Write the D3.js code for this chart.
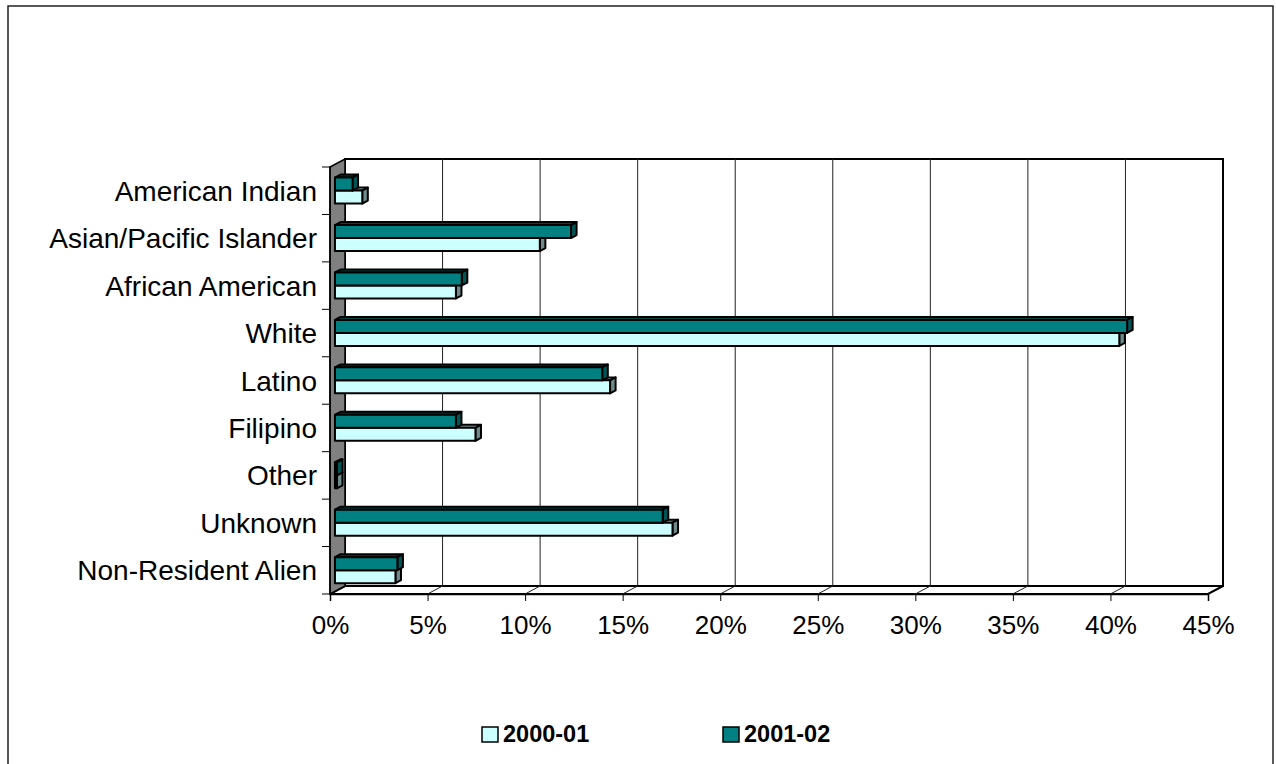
<!DOCTYPE html>
<html>
<head>
<meta charset="utf-8">
<script src="https://cdn.jsdelivr.net/npm/d3@7"></script>
<style>
  body { margin: 0; background: #fff; }
  svg text { font-family: "Liberation Sans", Arial, sans-serif; fill: #000; }
</style>
</head>
<body>
<svg id="chart" width="1276" height="764"></svg>
<script>
// ethnicity share, two years
const categories = ["American Indian", "Asian/Pacific Islander", "African American", "White",
    "Latino", "Filipino", "Other", "Unknown", "Non-Resident Alien"];
const seriesNames = ["2000-01", "2001-02"];
const values2000 = [1.4, 10.5, 6.2, 40.2, 14.1, 7.2, 0.1, 17.3, 3.1];
const values2001 = [0.9, 12.1, 6.5, 40.6, 13.7, 6.2, 0.1, 16.8, 3.2];
const xTicks = [0, 5, 10, 15, 20, 25, 30, 35, 40, 45];

{
const svg = d3.select("#chart");
const colors = ["#CCFFFF", "#008080"];
const sideColors = ["#6E8A8A", "#005555"];
const topColors = ["#99BFBF", "#004444"];

// front plane + depth offset
const DX = 15, DY = -8;
const x = d3.scaleLinear().domain([0, 45]).range([330, 1208]);
const y = d3.scaleBand().domain(categories).range([167, 594]);

svg.append("rect").attr("width", 1276).attr("height", 764).attr("fill", "#fff");
svg.append("rect")
    .attr("x", 8).attr("y", 6).attr("width", 1265).attr("height", 780)
    .attr("fill", "none").attr("stroke", "#222").attr("stroke-width", 1.5);

const top0 = y.range()[0], bot0 = y.range()[1];
const pt = (px, py, z) => [px + z * DX, py + z * DY];
const poly = pts => "M" + pts.map(p => p.join(",")).join("L") + "Z";

// back wall
svg.append("path")
    .attr("d", poly([pt(x(0), top0, 1), pt(x(45), top0, 1), pt(x(45), bot0, 1), pt(x(0), bot0, 1)]))
    .attr("fill", "#fff").attr("stroke", "#000").attr("stroke-width", 2);

// floor
svg.append("path")
    .attr("d", poly([pt(x(0), bot0, 0), pt(x(0), bot0, 1), pt(x(45), bot0, 1), pt(x(45), bot0, 0)]))
    .attr("fill", "#fff").attr("stroke", "#000").attr("stroke-width", 2);

// gridlines on wall and floor
const grid = svg.append("g").attr("stroke", "#222").attr("stroke-width", 1);
xTicks.slice(1, -1).forEach(t => {
    const a = pt(x(t), top0, 1), b = pt(x(t), bot0, 1), c = pt(x(t), bot0, 0);
    grid.append("path").attr("d", `M${a}L${b}L${c}`).attr("fill", "none");
});

// side wall
svg.append("path")
    .attr("d", poly([pt(x(0), top0, 0), pt(x(0), top0, 1), pt(x(0), bot0, 1), pt(x(0), bot0, 0)]))
    .attr("fill", "#808080").attr("stroke", "#000").attr("stroke-width", 1.5);

// value axis (front)
const xAxis = svg.append("g").attr("transform", `translate(0,${bot0})`)
    .call(d3.axisBottom(x).tickValues(xTicks).tickSize(7).tickFormat(d => d + "%"));
xAxis.select(".domain").attr("stroke", "#000").attr("stroke-width", 1.5);
xAxis.selectAll(".tick line").attr("stroke", "#000");
xAxis.selectAll("text").attr("font-size", 26).attr("dy", "1.15em")
    .attr("font-family", "Liberation Sans, Arial, sans-serif");

// category axis
svg.append("line").attr("x1", x(0)).attr("x2", x(0)).attr("y1", top0).attr("y2", bot0)
    .attr("stroke", "#000").attr("stroke-width", 1.5);
const bounds = categories.map(c => y(c)).concat([bot0]);
svg.append("g").selectAll("line").data(bounds).join("line")
    .attr("x1", x(0) - 8).attr("x2", x(0)).attr("y1", d => d).attr("y2", d => d)
    .attr("stroke", "#000");
svg.append("g").selectAll("text").data(categories).join("text")
    .attr("x", 317).attr("y", d => y(d) + y.bandwidth() / 2 + 10)
    .attr("text-anchor", "end").attr("font-size", 28)
    .text(d => d);

// 3D bars
const z0 = 0.33, z1 = 0.7, bh = 13;
const series = [values2000, values2001];
const barG = svg.append("g").attr("stroke", "#000").attr("stroke-width", 2).attr("stroke-linejoin", "round");
categories.forEach((c, i) => {
    const mid = y(c) + y.bandwidth() / 2 + 2.5;
    [0, 1].forEach(s => {
        const v = series[s][i];
        const yt = s === 1 ? mid - bh : mid;   // 2001-02 sits above 2000-01
        const yb = yt + bh;
        const xl = x(0), xr = x(v);
        const g = barG.append("g");
        // top face
        g.append("path").attr("fill", topColors[s])
            .attr("d", poly([pt(xl, yt, z0), pt(xl, yt, z1), pt(xr, yt, z1), pt(xr, yt, z0)]));
        // right face
        g.append("path").attr("fill", sideColors[s])
            .attr("d", poly([pt(xr, yt, z0), pt(xr, yt, z1), pt(xr, yb, z1), pt(xr, yb, z0)]));
        // front face
        g.append("path").attr("fill", colors[s])
            .attr("d", poly([pt(xl, yt, z0), pt(xr, yt, z0), pt(xr, yb, z0), pt(xl, yb, z0)]));
    });
});

// legend
const legend = svg.append("g");
const legX = [482, 723];
seriesNames.forEach((n, i) => {
    legend.append("rect").attr("x", legX[i]).attr("y", 727).attr("width", 16).attr("height", 15)
        .attr("fill", colors[i]).attr("stroke", "#000").attr("stroke-width", 1.5);
    legend.append("text").attr("x", legX[i] + 21).attr("y", 742)
        .attr("font-size", 23.5).attr("font-weight", "bold").text(n);
});
}
</script>
</body>
</html>
